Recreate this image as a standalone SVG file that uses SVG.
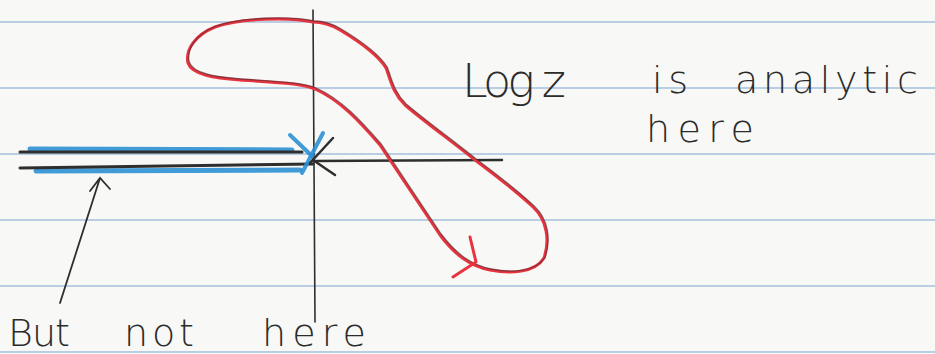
<svg xmlns="http://www.w3.org/2000/svg" width="935" height="354" viewBox="0 0 935 354">
<style>
.rule{stroke:#b9cde3;stroke-width:2}
.pen{fill:none;stroke:#2e2e2e;stroke-width:2;stroke-linecap:round}
.blue{fill:none;stroke:#2b90d4;stroke-width:5;stroke-linecap:round;opacity:.9}
.red{fill:none;stroke:#e8343f;stroke-width:3;stroke-linecap:round;stroke-linejoin:round}
.redDark{fill:none;stroke:#5a2a30;stroke-width:1.3;opacity:.65}
.hand{font-family:"DejaVu Sans","Liberation Sans",sans-serif;fill:#2b2b2b;font-weight:200}
</style>
<rect width="935" height="354" fill="#f8f8f6"/>
<g id="paper">
<line class="rule" x1="0" y1="22" x2="935" y2="22"/>
<line class="rule" x1="0" y1="88" x2="935" y2="88"/>
<line class="rule" x1="0" y1="154" x2="935" y2="154"/>
<line class="rule" x1="0" y1="220" x2="935" y2="220"/>
<line class="rule" x1="0" y1="286" x2="935" y2="286"/>
<line class="rule" x1="0" y1="352" x2="935" y2="352"/>
</g>
<g id="axes">
<line class="pen" x1="313" y1="10" x2="315" y2="322" style="stroke-width:1.6"/>
<line class="pen" x1="313" y1="161" x2="502" y2="160" style="stroke-width:2.4"/>
</g>
<g id="branch-cut">
<line class="blue" x1="30" y1="149" x2="292" y2="150"/>
<line class="blue" x1="36" y1="171" x2="300" y2="170"/>
<line class="pen" x1="20" y1="152" x2="302" y2="152" style="stroke-width:3"/>
<line class="pen" x1="20" y1="168" x2="313" y2="164" style="stroke-width:3"/>
</g>
<g id="origin-cross">
<line class="blue" x1="290" y1="135" x2="313" y2="157" style="stroke-width:4"/>
<line class="blue" x1="323" y1="133" x2="302" y2="173" style="stroke-width:4"/>
<line class="pen" x1="333" y1="138" x2="310" y2="163" style="stroke-width:2.5"/>
<line class="pen" x1="313" y1="160" x2="335" y2="175" style="stroke-width:2.5"/>
</g>
<g id="contour">
<path class="red" d="M313,22 C290,17 240,18 215,27 C195,35 185,50 188,63 C192,75 215,78 240,80 C270,82 300,83 315,89 C340,100 360,122 380,145 C400,175 420,205 440,235 C455,255 470,266 490,270 C510,274 535,273 544,258 C550,240 547,220 533,207 C515,190 495,175 475,160 C450,140 425,122 405,105 C392,92 390,78 386,68 C378,55 360,42 340,30 C330,24 320,22 313,22 Z"/>
<path class="redDark" transform="translate(1.2,-1)" d="M313,22 C290,17 240,18 215,27 C195,35 185,50 188,63 C192,75 215,78 240,80 C270,82 300,83 315,89 C340,100 360,122 380,145 C400,175 420,205 440,235 C455,255 470,266 490,270 C510,274 535,273 544,258 C550,240 547,220 533,207 C515,190 495,175 475,160 C450,140 425,122 405,105 C392,92 390,78 386,68 C378,55 360,42 340,30 C330,24 320,22 313,22 Z"/>
<path class="red" d="M470,237 L476,262 L453,277"/>
</g>
<g id="connectors">
<path class="pen" d="M60,303 L100,178 M90,191 L100,178 L110,189" style="stroke-width:1.8"/>
</g>
<g id="label-analytic">
<text class="hand" x="462" y="97" font-size="46" textLength="104" lengthAdjust="spacing">Log z</text>
<text class="hand" x="652" y="93" font-size="38" textLength="36" lengthAdjust="spacing">is</text>
<text class="hand" x="735" y="93" font-size="38" textLength="183" lengthAdjust="spacing">analytic</text>
<text class="hand" x="646" y="142" font-size="38" textLength="108" lengthAdjust="spacing">here</text>
</g>
<g id="label-not">
<text class="hand" x="8" y="346" font-size="38" textLength="62" lengthAdjust="spacing">But</text>
<text class="hand" x="124" y="346" font-size="38" textLength="70" lengthAdjust="spacing">not</text>
<text class="hand" x="262" y="346" font-size="38" textLength="104" lengthAdjust="spacing">here</text>
</g>
</svg>
